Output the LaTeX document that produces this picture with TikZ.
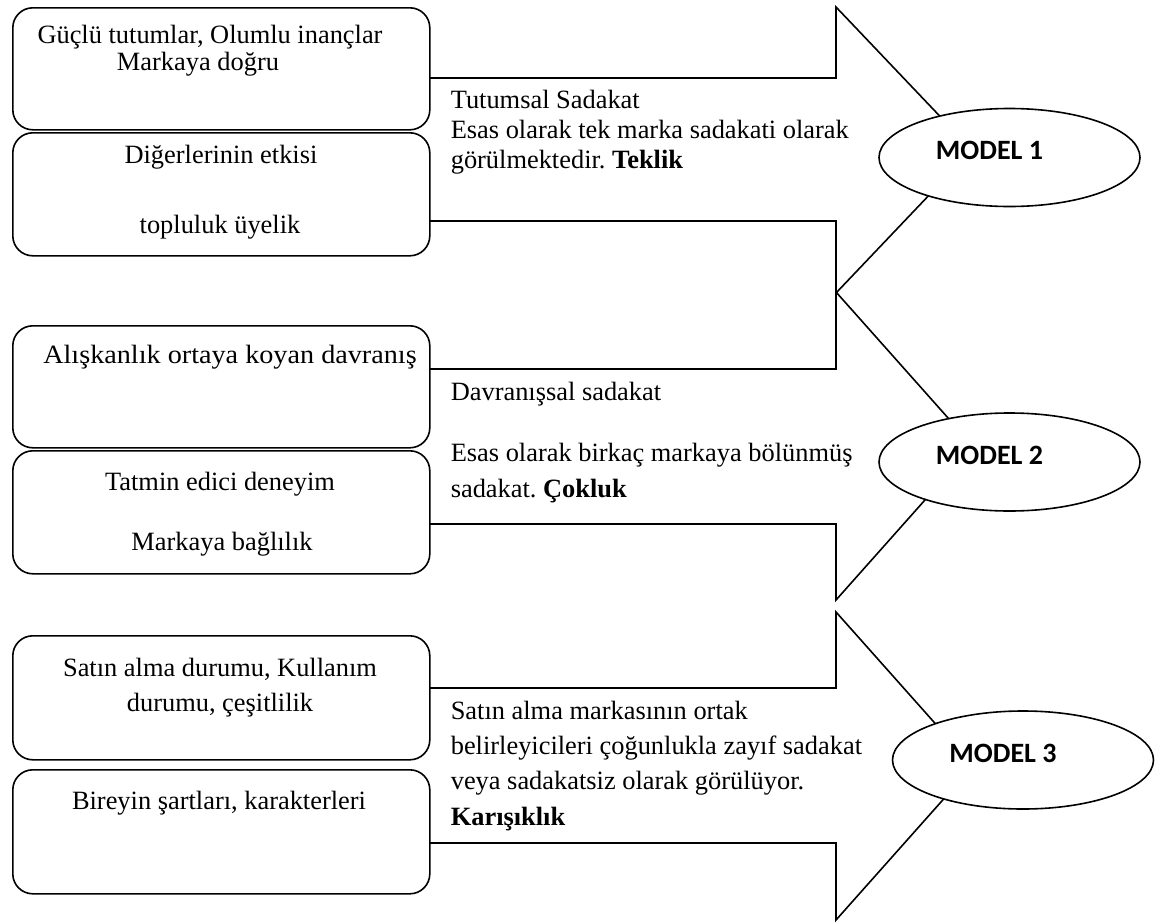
\documentclass[tikz,border=0pt]{standalone}
\usepackage{fontspec}
\setmainfont{Liberation Serif}
\newfontfamily\modelfont{Carlito}
\newfontfamily\widefont[FakeStretch=1.068]{Liberation Serif}
\usetikzlibrary{shapes.geometric}
\frenchspacing
\begin{document}
\begin{tikzpicture}[x=1pt,y=-1pt,
  line width=1.6pt, line join=miter,
  box/.style={draw, rounded corners=20pt, minimum width=417pt, inner sep=0pt, anchor=north west},
  txt/.style={font=\fontsize{26.4}{30}\selectfont, inner sep=0pt, anchor=base},
  note/.style={font=\fontsize{26.4}{30}\selectfont, inner sep=0pt, anchor=base west},
  modelell/.style={draw, fill=white, ellipse, inner sep=0pt, minimum width=261pt, minimum height=98pt},
  modeltxt/.style={font=\modelfont\bfseries\fontsize{28}{30}\selectfont, inner sep=0pt, xshift=-20pt, yshift=7pt}
]
\useasboundingbox (0,0) rectangle (1163,924);

% block arrows
\draw (430,78) -- (836,78) -- (836,7) -- (972,150) -- (836,293) -- (836,221) -- (430,221);
\draw (430,369) -- (836,369) -- (836,292) -- (973,446) -- (836,600) -- (836,524) -- (430,524);
\draw (430,688) -- (836,688) -- (836,612) -- (973,766) -- (836,920) -- (836,843) -- (430,843);

% model ellipses over the arrow tips
\node[modelell] (m1) at (1009.5,157.5) {};
\node[modeltxt] (m1t) at (m1.center) {MODEL 1};
\node[modelell] (m2) at (1009.5,462) {};
\node[modeltxt] (m2t) at (m2.center) {MODEL 2};
\node[modelell] (m3) at (1023,760) {};
\node[modeltxt] (m3t) at (m3.center) {MODEL 3};

% factor boxes
\node[box, minimum height=122pt] (b1) at (12,7) {};
\node[box, minimum height=123pt] (b2) at (12,132) {};
\node[box, minimum height=122pt] (b3) at (12,325) {};
\node[box, minimum height=123pt] (b4) at (12,450) {};
\node[box, minimum height=124pt] (b5) at (12,635) {};
\node[box, minimum height=124pt] (b6) at (12,769) {};

\node[txt] (b1a) at (210,43) {Güçlü tutumlar, Olumlu inançlar};
\node[txt] (b1b) at (198,70) {Markaya doğru};
\node[txt] (b2a) at (221,163) {Diğerlerinin etkisi};
\node[txt] (b2b) at (220,233) {topluluk üyelik};
\node[txt, font=\widefont\fontsize{26.4}{30}\selectfont] (b3a) at (230,363) {Alışkanlık ortaya koyan davranış};
\node[txt] (b4a) at (220,490) {Tatmin edici deneyim};
\node[txt] (b4b) at (222,550) {Markaya bağlılık};
\node[txt] (b5a) at (220,676) {Satın alma durumu, Kullanım};
\node[txt] (b5b) at (220,711) {durumu, çeşitlilik};
\node[txt] (b6a) at (219,809) {Bireyin şartları, karakterleri};

% arrow texts
\node[note] (n1a) at (450,108) {Tutumsal Sadakat};
\node[note] (n1b) at (450,138) {Esas olarak tek marka sadakati olarak};
\node[note] (n1c) at (450,168) {görülmektedir. \textbf{Teklik}};
\node[note] (n2a) at (450,400) {Davranışsal sadakat};
\node[note] (n2b) at (450,461) {Esas olarak birkaç markaya bölünmüş};
\node[note] (n2c) at (450,497) {sadakat. \textbf{Çokluk}};
\node[note] (n3a) at (450,719) {Satın alma markasının ortak};
\node[note] (n3b) at (450,754) {belirleyicileri çoğunlukla zayıf sadakat};
\node[note] (n3c) at (450,789) {veya sadakatsiz olarak görülüyor.};
\node[note] (n3d) at (450,825) {\textbf{Karışıklık}};
\end{tikzpicture}
\end{document}
